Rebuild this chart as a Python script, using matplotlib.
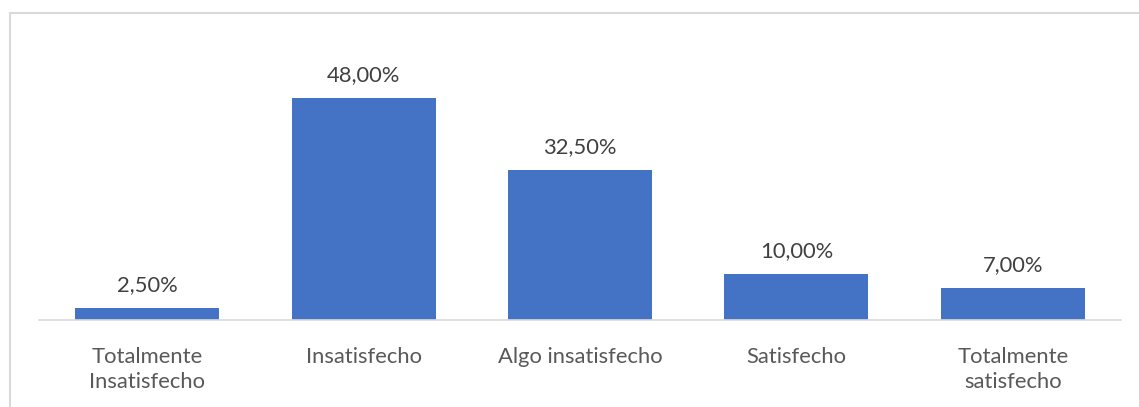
import matplotlib.pyplot as plt
from matplotlib.patches import Rectangle

categories = ["Totalmente\nInsatisfecho", "Insatisfecho", "Algo insatisfecho",
              "Satisfecho", "Totalmente\nsatisfecho"]
values = [2.5, 48.0, 32.5, 10.0, 7.0]
labels = ["2,50%", "48,00%", "32,50%", "10,00%", "7,00%"]

plt.rcParams['font.family'] = ['Lato', 'DejaVu Sans']

W, H = 1139, 407
fig = plt.figure(figsize=(W / 100, H / 100), dpi=100)
ax = fig.add_axes([39 / W, (H - 320) / H, (1121 - 39) / W, (320 - 42.5) / H])

x = range(len(values))
bars = ax.bar(x, values, width=0.666, color="#4472C4")
for b, lab in zip(bars, labels):
    ax.text(b.get_x() + b.get_width() / 2, b.get_height() + 2.8, lab,
            ha="center", va="bottom", fontsize=15.8, color="#404040")

ax.set_xlim(-0.5, len(values) - 0.5)
ax.set_ylim(0, 60)
ax.set_xticks(list(x))
ax.set_xticklabels(categories, fontsize=15.8, color="#595959", linespacing=1.3)
ax.tick_params(axis="x", length=0, pad=19.5)
ax.set_yticks([])
for s in ["top", "right", "left"]:
    ax.spines[s].set_visible(False)
ax.spines["bottom"].set_color("#D9D9D9")
ax.spines["bottom"].set_linewidth(1.2)

# chart border (cropped on right and bottom)
fig.patches.append(Rectangle((9.5 / W, -0.1), 1.2, (H - 13.5) / H + 0.1,
                             transform=fig.transFigure, fill=False,
                             edgecolor="#D9D9D9", linewidth=1.5))

fig.savefig("out.png", dpi=100)
